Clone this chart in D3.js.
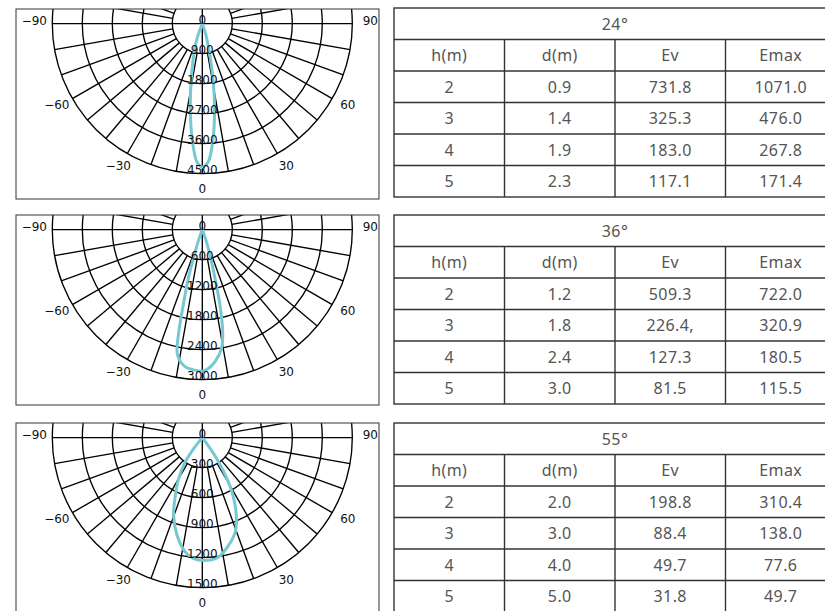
<!DOCTYPE html>
<html>
<head>
<meta charset="utf-8">
<script src="https://cdn.jsdelivr.net/npm/d3@7/dist/d3.min.js"></script>
<style>
  html, body { margin: 0; padding: 0; background: #fff; }
  svg { display: block; }
</style>
</head>
<body>
<svg id="chart" width="825" height="611"></svg>
<script>
// ---------------- DATA ----------------
const beamLabels = ["24°", "36°", "55°"];
const headers = ["h(m)", "d(m)", "Ev", "Emax"];
const heights = ["2", "3", "4", "5"];

const dist24 = ["0.9", "1.4", "1.9", "2.3"];
const ev24   = ["731.8", "325.3", "183.0", "117.1"];
const emax24 = ["1071.0", "476.0", "267.8", "171.4"];

const dist36 = ["1.2", "1.8", "2.4", "3.0"];
const ev36   = ["509.3", "226.4,", "127.3", "81.5"];
const emax36 = ["722.0", "320.9", "180.5", "115.5"];

const dist55 = ["2.0", "3.0", "4.0", "5.0"];
const ev55   = ["198.8", "88.4", "49.7", "31.8"];
const emax55 = ["310.4", "138.0", "77.6", "49.7"];

// radial tick labels (cd)
const rTicks24 = [0, 900, 1800, 2700, 3600, 4500];
const rTicks36 = [0, 600, 1200, 1800, 2400, 3000];
const rTicks55 = [0, 300, 600, 900, 1200, 1500];

// angular tick labels (degrees)
const thetaTicks = [-90, -60, -30, 0, 30, 60, 90];

// light distribution curves: angle (deg, 0 = straight down) and intensity (cd)
const ang24 = [-22, -20.2, -16.8, -11.3, -7.7, -4.7, -2.2, 0, 2.4, 5.0, 7.9, 11.0, 14.4, 17.5, 19.5];
const val24 = [0, 374, 785, 1683, 2676, 3564, 4155, 4300, 4155, 3565, 2677, 1680, 775, 366, 0];

const ang36 = [-21, -19.1, -17.5, -16, -14.2, -12.8, -11.2, -7.2, -3.5, 0, 2.5, 5.5, 9.2, 11.3, 13.2, 14.6, 16.9, 18.8, 20.5];
const val36 = [0, 275, 531, 1013, 1553, 2160, 2554, 2762, 2810, 2834, 2780, 2652, 2405, 2080, 1547, 1006, 529, 270, 0];

const ang55 = [-42, -38, -35, -30, -25, -20.3, -14.5, -8.5, -4.1, 2.2, 7.8, 13.7, 19.3, 23.6, 28, 31, 33.9, 36, 40];
const val55 = [0, 140, 297, 474, 637, 828, 1009, 1156, 1213, 1228, 1204, 1109, 999, 848, 653, 479, 293, 136, 0];

// ---------------- BUILD ----------------
const panels = [
  { title: beamLabels[0], ticks: rTicks24, ang: ang24, val: val24, cols: [heights, dist24, ev24, emax24] },
  { title: beamLabels[1], ticks: rTicks36, ang: ang36, val: val36, cols: [heights, dist36, ev36, emax36] },
  { title: beamLabels[2], ticks: rTicks55, ang: ang55, val: val55, cols: [heights, dist55, ev55, emax55] }
];

const svg = d3.select("#chart");
svg.append("rect").attr("width", 825).attr("height", 611).attr("fill", "#fff");
const defs = svg.append("defs");

const panelTops = [9, 215, 423];
const boxX = 16, boxW = 363, boxH = 190;
const cx = 202.3, cyOff = 14.6, outerR = 150;
const curveColor = "#76c8d1";
const polarFont = "'DejaVu Sans', sans-serif";
const polarSize = 12;

panels.forEach((p, i) => {
  const top = panelTops[i];
  const cy = top + cyOff;
  const g = svg.append("g");

  const clipId = "clip" + i;
  defs.append("clipPath").attr("id", clipId)
    .append("rect").attr("x", boxX).attr("y", top).attr("width", boxW).attr("height", boxH);

  const rMax = p.ticks[p.ticks.length - 1];
  const r = d3.scaleLinear().domain([0, rMax]).range([0, outerR]);

  const clipped = g.append("g").attr("clip-path", `url(#${clipId})`);
  const grid = clipped.append("g").attr("transform", `translate(${cx},${cy})`);

  // concentric circles
  grid.selectAll("circle.ring").data(p.ticks.filter(t => t > 0)).join("circle")
    .attr("class", "ring")
    .attr("r", d => r(d))
    .attr("fill", "none").attr("stroke", "#000").attr("stroke-width", 1.35);

  // spokes every 10 degrees
  const spokes = d3.range(0, 360, 10);
  grid.selectAll("line.spoke").data(spokes).join("line")
    .attr("class", "spoke")
    .attr("x1", a => (a % 90 === 0 ? 0 : r(p.ticks[1])) * Math.sin(a * Math.PI / 180))
    .attr("y1", a => (a % 90 === 0 ? 0 : r(p.ticks[1])) * Math.cos(a * Math.PI / 180))
    .attr("x2", a => r(rMax) * Math.sin(a * Math.PI / 180))
    .attr("y2", a => r(rMax) * Math.cos(a * Math.PI / 180))
    .attr("stroke", "#000").attr("stroke-width", 1.35);

  // curve
  const pts = p.ang.map((a, k) => ({ a: a, v: p.val[k] }));
  const line = d3.lineRadial()
    .angle(d => Math.PI - d.a * Math.PI / 180)
    .radius(d => r(d.v))
    .curve(d3.curveCatmullRom.alpha(0.5));
  grid.append("path").datum(pts)
    .attr("d", line)
    .attr("fill", "none").attr("stroke", curveColor)
    .attr("stroke-width", 3).attr("stroke-linejoin", "round");

  // radial labels
  grid.selectAll("text.rlab").data(p.ticks).join("text")
    .attr("class", "rlab")
    .attr("x", 0).attr("y", d => r(d) - 4)
    .attr("text-anchor", "middle").attr("dominant-baseline", "central")
    .attr("font-family", polarFont).attr("font-size", polarSize).attr("fill", "#111")
    .text(d => d);

  // angular labels
  const labR = 168;
  g.selectAll("text.tlab").data(thetaTicks).join("text")
    .attr("class", "tlab")
    .attr("x", d => cx + labR * Math.sin(d * Math.PI / 180))
    .attr("y", d => cy + labR * Math.cos(d * Math.PI / 180) - 3)
    .attr("text-anchor", "middle").attr("dominant-baseline", "central")
    .attr("font-family", polarFont).attr("font-size", polarSize).attr("fill", "#111")
    .text(d => (d < 0 ? "\u2212" + Math.abs(d) : String(d)));

  // box
  g.append("rect").attr("x", boxX).attr("y", top).attr("width", boxW).attr("height", boxH)
    .attr("fill", "none").attr("stroke", "#333").attr("stroke-width", 1);

  // ---------- table ----------
  const tTop = panelTops[i] - (i === 0 ? 1 : 0);
  const tH = 189;
  const colScale = d3.scaleBand().domain(d3.range(4)).range([394, 836]);
  const rowScale = d3.scaleBand().domain(d3.range(6)).range([tTop, tTop + tH]);
  const t = svg.append("g");
  const tFont = "'Noto Sans', 'Open Sans', sans-serif";
  const textColor = "#555";
  const tSize = 16;

  t.selectAll("line.h").data(d3.range(1, 6)).join("line")
    .attr("x1", 394).attr("x2", 836)
    .attr("y1", d => rowScale(d)).attr("y2", d => rowScale(d))
    .attr("stroke", "#333").attr("stroke-width", 1.4);
  t.selectAll("line.v").data(d3.range(1, 4)).join("line")
    .attr("x1", d => colScale(d)).attr("x2", d => colScale(d))
    .attr("y1", rowScale(1)).attr("y2", tTop + tH)
    .attr("stroke", "#333").attr("stroke-width", 1.4);
  t.append("rect").attr("x", 394).attr("y", tTop).attr("width", 442).attr("height", tH)
    .attr("fill", "none").attr("stroke", "#333").attr("stroke-width", 1.4);

  const txt = sel => sel
    .attr("text-anchor", "middle").attr("dominant-baseline", "central")
    .attr("font-family", tFont).attr("font-size", tSize).attr("fill", textColor)
    .attr("letter-spacing", 0.4);

  t.append("text").attr("x", 615).attr("y", rowScale(0) + rowScale.bandwidth() / 2)
    .call(txt).text(p.title);

  t.selectAll("text.hd").data(headers).join("text")
    .attr("x", (d, k) => colScale(k) + colScale.bandwidth() / 2)
    .attr("y", rowScale(1) + rowScale.bandwidth() / 2)
    .call(txt).text(d => d);

  p.cols.forEach((col, k) => {
    t.selectAll("text.c" + k).data(col).join("text")
      .attr("x", colScale(k) + colScale.bandwidth() / 2)
      .attr("y", (d, j) => rowScale(j + 2) + rowScale.bandwidth() / 2)
      .call(txt).text(d => d);
  });
});
</script>
</body>
</html>
